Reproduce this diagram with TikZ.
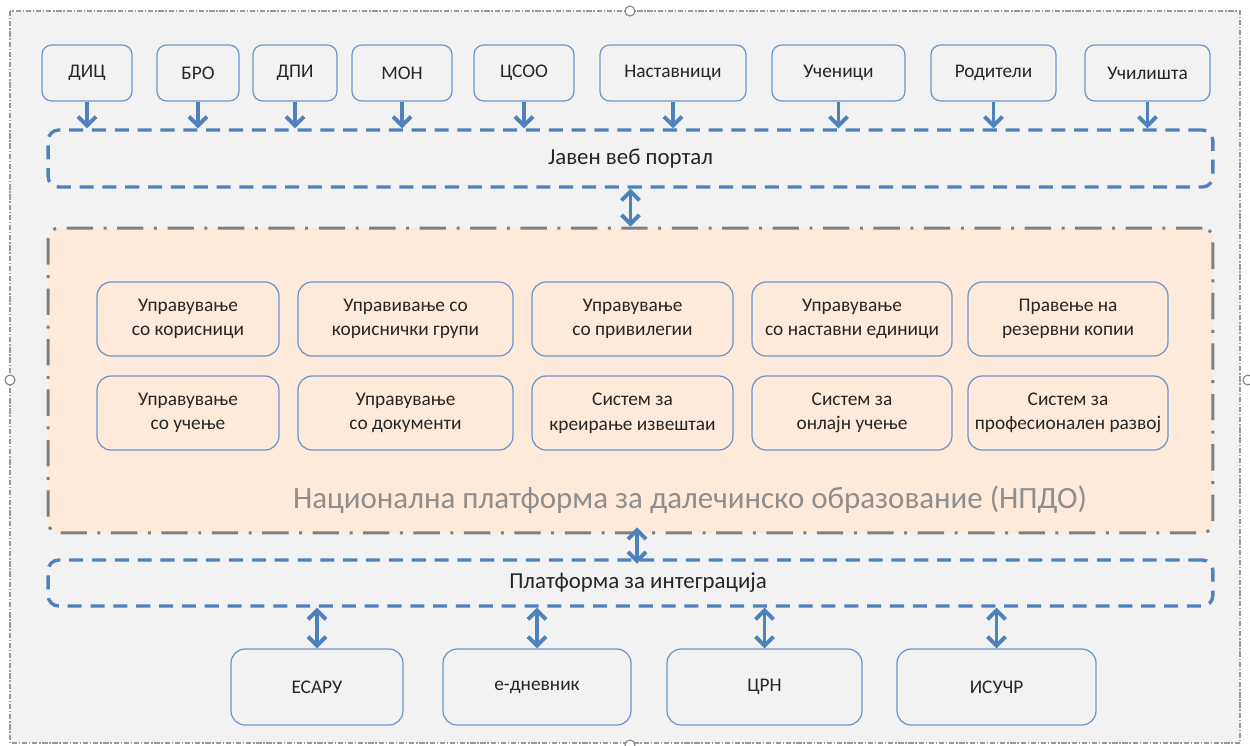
\documentclass[tikz,border=0pt]{standalone}
\usepackage{fontspec}
\setmainfont{Carlito}
\usetikzlibrary{positioning,arrows.meta}

\definecolor{frameback}{HTML}{F2F2F2}
\definecolor{lineblue}{HTML}{4F81BD}
\definecolor{boxblue}{HTML}{6B96CB}
\definecolor{peach}{HTML}{FDEADB}
\definecolor{dashgray}{HTML}{7F7F7F}
\definecolor{titlegray}{HTML}{8E8E8E}
\definecolor{textdark}{HTML}{262626}

\tikzset{
	topbox/.style={draw=boxblue, line width=0.7pt, rounded corners=5.5pt, fill=frameback, minimum height=1.12cm, text=textdark, font=\fontsize{11}{13}\selectfont},
	modbox/.style={draw=boxblue, line width=0.7pt, rounded corners=8pt, fill=peach, minimum height=1.48cm, align=center, text=textdark, font=\fontsize{11}{14}\selectfont},
	extbox/.style={draw=boxblue, line width=0.7pt, rounded corners=8pt, fill=frameback, minimum height=1.52cm, text=textdark, font=\fontsize{11}{13}\selectfont},
	layer/.style={draw=lineblue, line width=1.9pt, dash pattern=on 8pt off 5pt, rounded corners=6pt, minimum width=23.3cm, text=textdark, font=\fontsize{13}{15}\selectfont},
	arr/.style={lineblue, line width=2.2pt, -{Straight Barb[length=1.8mm,width=3.6mm]}},
	darr/.style={lineblue, line width=2.2pt, {Straight Barb[length=1.8mm,width=3.6mm]}-{Straight Barb[length=1.8mm,width=3.6mm]}},
	handle/.style={draw=gray, fill=white, line width=0.6pt, circle, inner sep=0pt, minimum size=0.2cm},
}

\begin{document}
\begin{tikzpicture}[x=0.02cm, y=-0.02cm]
	\useasboundingbox (0,0) rectangle (1250,745);
	\fill[white] (0,0) rectangle (1250,745);

	% outer frame
	\draw[draw=gray!80, fill=frameback, line width=0.8pt, dash pattern=on 3pt off 1pt on 0.8pt off 1pt] (10,11) rectangle (1240,743);
	\node[handle] (h1) at (630,11) {};
	\node[handle] (h2) at (10,380) {};
	\node[handle] (h3) at (1248,380) {};
	\node[handle] (h4) at (630,745) {};

	% users and institutions
	\node[topbox, minimum width=1.8cm] (dic) at (87,73) {ДИЦ};
	\node[topbox, minimum width=1.64cm] (bro) at (198,73) {БРО};
	\node[topbox, minimum width=1.68cm] (dpi) at (295,73) {ДПИ};
	\node[topbox, minimum width=2cm] (mon) at (402,73) {МОН};
	\node[topbox, minimum width=2cm] (csoo) at (524,73) {ЦСОО};
	\node[topbox, minimum width=2.92cm] (nast) at (673,73) {Наставници};
	\node[topbox, minimum width=2.66cm] (uch) at (838.5,73) {Ученици};
	\node[topbox, minimum width=2.5cm] (rod) at (993.5,73) {Родители};
	\node[topbox, minimum width=2.5cm] (ucl) at (1147.5,73) {Училишта};

	% portal
	\node[layer, minimum height=1.14cm] (portal) at (630.5,158.5) {Јавен веб портал};

	\foreach \b in {dic,bro,dpi,mon,csoo,nast,uch,rod,ucl}
		\draw[arr] (\b) -- (\b |- portal.north);

	% platform
	\node[draw=dashgray, fill=peach, line width=1.7pt, dash pattern=on 15pt off 6pt on 1.7pt off 6pt, rounded corners=6pt, minimum width=23.3cm, minimum height=6.1cm] (npdo) at (630.5,380.5) {};
	\node[text=titlegray, font=\fontsize{17.6}{20}\selectfont] (title) at (690,500) {Национална платформа за далечинско образование (НПДО)};

	\node[modbox, minimum width=3.64cm] (m1) at (188,319) {Управување\\со корисници};
	\node[modbox, minimum width=4.3cm] (m2) at (405.5,319) {Управивање со\\кориснички групи};
	\node[modbox, minimum width=4.02cm] (m3) at (632.5,319) {Управување\\со привилегии};
	\node[modbox, minimum width=4cm] (m4) at (852,319) {Управување\\со наставни единици};
	\node[modbox, minimum width=4cm] (m5) at (1068,319) {Правење на\\резервни копии};
	\node[modbox, minimum width=3.64cm] (m6) at (188,413) {Управување\\со учење};
	\node[modbox, minimum width=4.3cm] (m7) at (405.5,413) {Управување\\со документи};
	\node[modbox, minimum width=4.02cm] (m8) at (632.5,413) {Систем за\\креирање извештаи};
	\node[modbox, minimum width=4cm] (m9) at (852,413) {Систем за\\онлајн учење};
	\node[modbox, minimum width=4cm] (m10) at (1068,413) {Систем за\\професионален развој};

	\draw[darr] (portal) -- (npdo);

	% integration
	\node[layer, minimum height=0.92cm] (integ) at (630.5,583) {\hspace*{0.3cm}Платформа за интеграција};
	\draw[darr, shorten <=-4pt, shorten >=-3pt] ([xshift=0.13cm]npdo.south) -- ([xshift=0.13cm]integ.north);

	% external systems
	\node[extbox, minimum width=3.44cm] (esaru) at (317,687) {ЕСАРУ};
	\node[extbox, minimum width=3.76cm] (edn) at (537,687) {е-дневник};
	\node[extbox, minimum width=3.9cm] (crn) at (764.5,687) {ЦРН};
	\node[extbox, minimum width=3.98cm] (isuchr) at (996.5,687) {ИСУЧР};

	\foreach \b in {esaru,edn,crn,isuchr}
		\draw[darr] (\b |- integ.south) -- (\b);
\end{tikzpicture}
\end{document}
